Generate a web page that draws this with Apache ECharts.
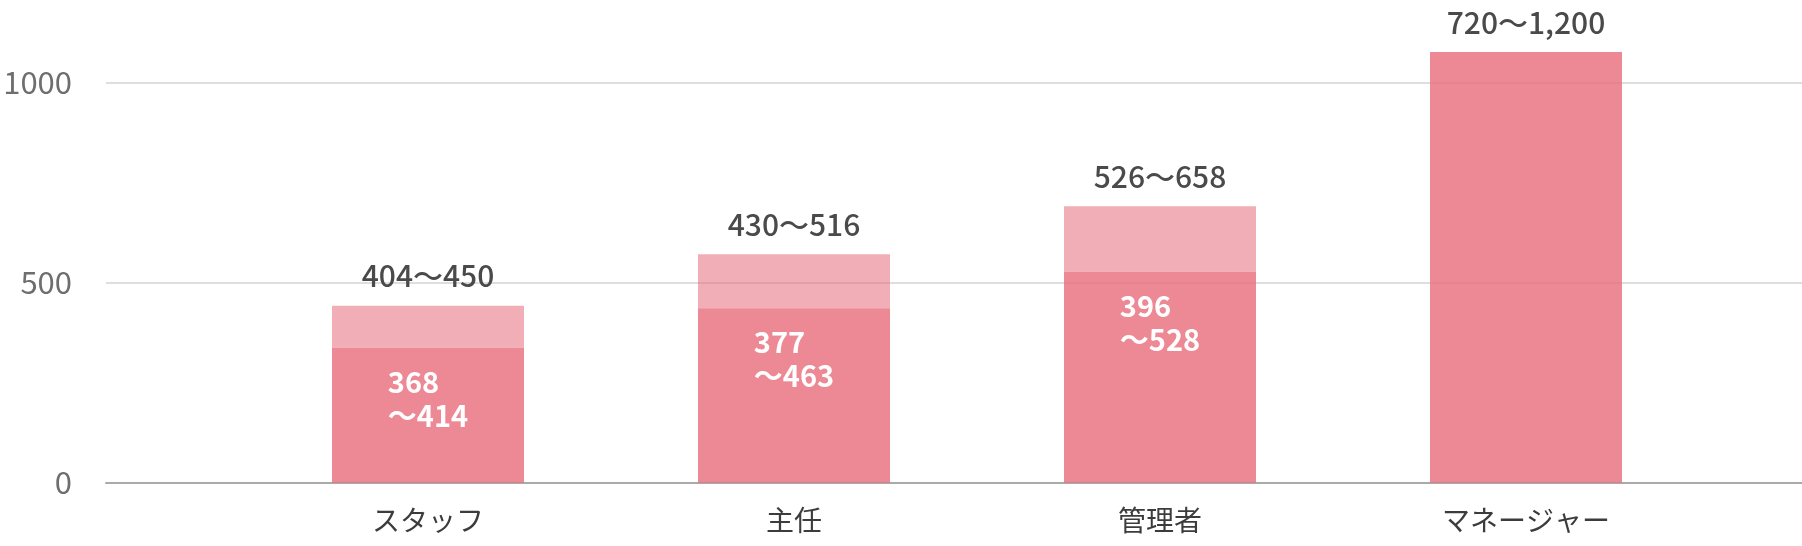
<!DOCTYPE html>
<html>
<head>
<meta charset="utf-8">
<script src="https://cdn.jsdelivr.net/npm/echarts@6/dist/echarts.min.js"></script>
<style>
html,body{margin:0;padding:0;background:#fff;}
#c{width:1802px;height:546px;}
</style>
</head>
<body>
<div id="c"></div>
<script>
const categories = ['スタッフ', '主任', '管理者', 'マネージャー'];
const baseValues = [337, 436, 527, 1076];
const rangeValues = [105, 135, 164, 0];
const topLabels = ['404〜450', '430〜516', '526〜658', '720〜1,200'];
const innerLow = ['368', '377', '396', ''];
const innerHigh = ['414', '463', '528', ''];
const yTicks = [0, 500, 1000];

const FONT = '"Noto Sans CJK JP", "Noto Sans", sans-serif';
const chart = echarts.init(document.getElementById('c'), null, {renderer: 'canvas'});

const option = {
  animation: false,
  backgroundColor: '#fff',
  grid: [
    {left: 106, right: 0, top: 82.5, bottom: 63.3, containLabel: false},
    {left: 245, right: 93, top: 2.5, bottom: 63.3, containLabel: false}
  ],
  xAxis: [
    {
      gridIndex: 0, type: 'value', min: 0, max: 1,
      axisLine: {show: true, onZero: false, lineStyle: {color: '#aaaaaa', width: 2}},
      axisTick: {show: false}, axisLabel: {show: false}, splitLine: {show: false}
    },
    {
      gridIndex: 1, type: 'category', data: categories,
      axisLine: {show: false}, axisTick: {show: false},
      axisLabel: {margin: 24, fontSize: 28, color: '#3c3c3c', fontFamily: FONT}
    }
  ],
  yAxis: [
    {
      gridIndex: 0, type: 'value', min: yTicks[0], max: yTicks[yTicks.length - 1], interval: 500,
      axisLine: {show: false}, axisTick: {show: false},
      axisLabel: {margin: 34, fontSize: 31, color: '#6e6e6e', fontFamily: FONT, formatter: v => String(v)},
      splitLine: {show: true, lineStyle: {color: '#dedede', width: 2}}
    },
    {
      gridIndex: 1, type: 'value', min: 0, max: 1200,
      show: false, splitLine: {show: false}
    }
  ],
  series: [
    {
      type: 'bar', xAxisIndex: 1, yAxisIndex: 1, stack: 'r', barWidth: 192,
      itemStyle: {color: 'rgba(231,107,122,0.8)'},
      data: baseValues,
      label: {
        show: true, position: 'insideTop', distance: 17,
        fontFamily: FONT,
        formatter: p => innerLow[p.dataIndex] ? '{a|' + innerLow[p.dataIndex] + '}\n{a|〜' + innerHigh[p.dataIndex] + '}' : '',
        rich: {a: {align: 'left', color: '#ffffff', fontWeight: 'bold', fontSize: 29, lineHeight: 34, fontFamily: FONT}}
      }
    },
    {
      type: 'bar', xAxisIndex: 1, yAxisIndex: 1, stack: 'r', barWidth: 192,
      itemStyle: {color: 'rgba(231,107,122,0.55)'},
      data: rangeValues,
      label: {
        show: true, position: 'top', distance: 15,
        fontSize: 30, fontWeight: 500, color: '#4a4a4a', fontFamily: FONT,
        formatter: p => topLabels[p.dataIndex]
      }
    }
  ]
};
chart.setOption(option);
</script>
</body>
</html>
